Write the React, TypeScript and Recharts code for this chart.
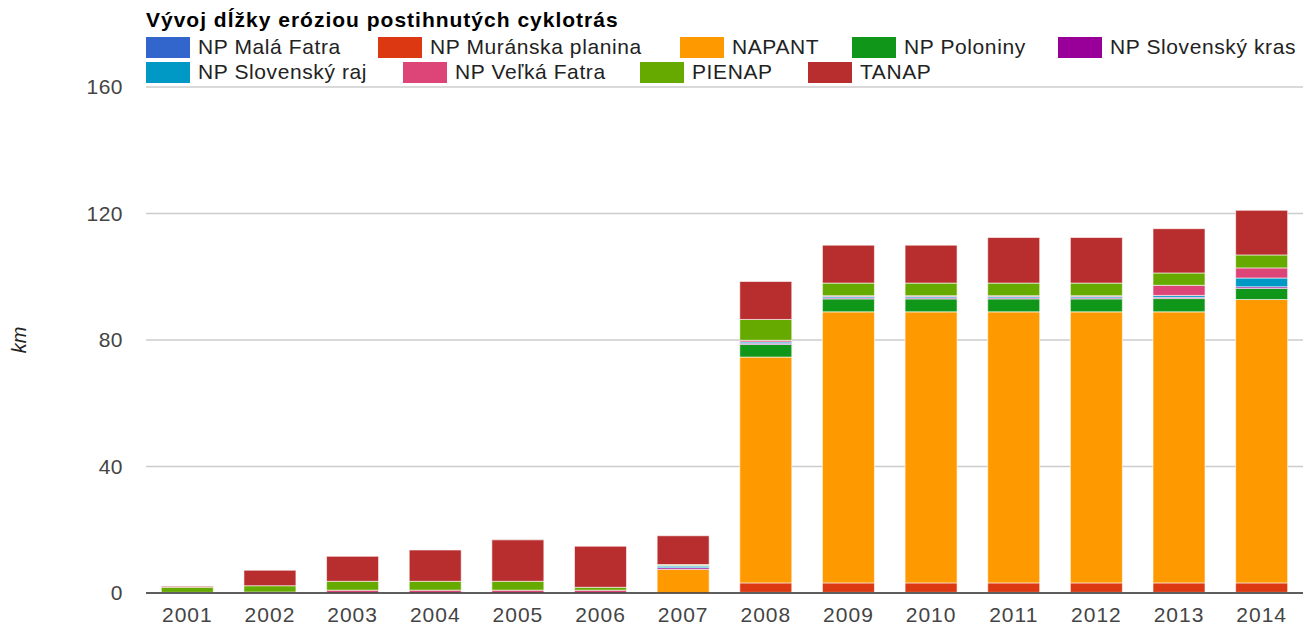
import React from 'react';
import { BarChart, Bar, XAxis, YAxis, CartesianGrid, Label } from 'recharts';

const years = ['2001', '2002', '2003', '2004', '2005', '2006', '2007', '2008', '2009', '2010', '2011', '2012', '2013', '2014'];

const malaFatra = [0, 0, 0, 0, 0, 0, 0, 0.2, 0.2, 0.2, 0.2, 0.2, 0.2, 0.2];
const muranska = [0, 0, 0, 0, 0, 0, 0, 3.0, 3.0, 3.0, 3.0, 3.0, 3.0, 3.0];
const napant = [0, 0, 0, 0, 0, 0, 7.5, 71.4, 85.7, 85.7, 85.7, 85.7, 85.7, 89.6];
const poloniny = [0, 0, 0, 0, 0, 0, 0, 4.0, 4.1, 4.1, 4.1, 4.1, 4.2, 3.5];
const slovKras = [0, 0, 0, 0, 0, 0, 0.5, 0.4, 0.3, 0.3, 0.3, 0.3, 0.4, 0.5];
const slovRaj = [0.2, 0, 0, 0, 0, 0, 0.5, 0.4, 0.4, 0.4, 0.4, 0.4, 0.6, 2.8];
const velkaFatra = [0, 0.3, 0.9, 0.9, 0.9, 0.9, 0.2, 0.5, 0.3, 0.3, 0.3, 0.3, 3.2, 3.2];
const pienap = [1.6, 2.0, 2.8, 2.8, 2.8, 0.9, 0.3, 6.6, 4.0, 4.0, 4.0, 4.0, 3.9, 4.1];
const tanap = [0.3, 4.9, 7.9, 9.9, 13.1, 13.0, 9.1, 12.0, 12.0, 12.0, 14.4, 14.4, 14.0, 14.1];

const yTicks = [0, 40, 80, 120, 160];

const title = 'Vývoj dĺžky eróziou postihnutých cyklotrás';
const yLabel = 'km';

const seriesNames = [
  'NP Malá Fatra',
  'NP Muránska planina',
  'NAPANT',
  'NP Poloniny',
  'NP Slovenský kras',
  'NP Slovenský raj',
  'NP Veľká Fatra',
  'PIENAP',
  'TANAP',
];
const seriesColors = ['#3366cc', '#dc3912', '#ff9900', '#109618', '#990099', '#0099c6', '#dd4477', '#66aa00', '#b82e2e'];
const seriesValues = [malaFatra, muranska, napant, poloniny, slovKras, slovRaj, velkaFatra, pienap, tanap];
const seriesKeys = ['s0', 's1', 's2', 's3', 's4', 's5', 's6', 's7', 's8'];

const data = years.map((y, i) => {
  const row: Record<string, string | number> = { year: y };
  seriesKeys.forEach((k, j) => {
    row[k] = seriesValues[j][i];
  });
  return row;
});

// legend layout (positions only)
const legendRows = [
  { top: 36, items: [0, 1, 2, 3, 4], lefts: [146, 378, 680, 852, 1058] },
  { top: 61, items: [5, 6, 7, 8], lefts: [146, 403, 640, 808] },
];

const FONT = 'Arial, "Liberation Sans", sans-serif';

export default function App() {
  return (
    <div style={{ position: 'absolute', left: 0, top: 0, width: 1311, height: 628, fontFamily: FONT, background: '#fff' }}>
      <BarChart
        width={1311}
        height={628}
        data={data}
        margin={{ top: 87, right: 8, left: 0, bottom: 0 }}
        barCategoryGap="18.5%"
      >
        <CartesianGrid vertical={false} stroke="#cccccc" strokeWidth={1.5} />
        <XAxis
          dataKey="year"
          height={35}
          tickLine={false}
          tickSize={0}
          tickMargin={14}
          axisLine={{ stroke: '#333333', strokeWidth: 1.5 }}
          tick={{ fill: '#444444', fontSize: 21, fontFamily: FONT, style: { letterSpacing: '1px' } }}
          interval={0}
        />
        <YAxis
          width={146}
          domain={[0, 160]}
          ticks={yTicks}
          tickLine={false}
          axisLine={false}
          tickSize={0}
          tickMargin={23}
          tick={{ fill: '#444444', fontSize: 21, fontFamily: FONT, style: { letterSpacing: '0.5px' } }}
        >
          <Label
            content={() => (
              <text
                x={26}
                y={340}
                transform="rotate(-90 26 340)"
                textAnchor="middle"
                fontStyle="italic"
                fontSize={20}
                fill="#222222"
                fontFamily={FONT}
              >
                {yLabel}
              </text>
            )}
          />
        </YAxis>
        {seriesKeys.map((k, j) => (
          <Bar
            key={k}
            dataKey={k}
            name={seriesNames[j]}
            stackId="a"
            fill={seriesColors[j]}
            stroke="#ffffff"
            strokeOpacity={0.6}
            strokeWidth={1}
            isAnimationActive={false}
          />
        ))}
      </BarChart>
      <div
        style={{
          position: 'absolute',
          left: 146,
          top: 8,
          fontSize: 21,
          fontWeight: 'bold',
          lineHeight: '24px',
          letterSpacing: '1px',
          color: '#000',
          whiteSpace: 'nowrap',
        }}
      >
        {title}
      </div>
      {legendRows.map((row, r) =>
        row.items.map((idx, n) => (
          <div
            key={`${r}-${n}`}
            style={{
              position: 'absolute',
              left: row.lefts[n],
              top: row.top,
              height: 22,
              display: 'flex',
              alignItems: 'center',
              whiteSpace: 'nowrap',
            }}
          >
            <div style={{ width: 44, height: 21, background: seriesColors[idx], marginRight: 8 }} />
            <span style={{ fontSize: 21, color: '#222222', lineHeight: '22px', letterSpacing: '0.6px' }}>{seriesNames[idx]}</span>
          </div>
        ))
      )}
    </div>
  );
}
